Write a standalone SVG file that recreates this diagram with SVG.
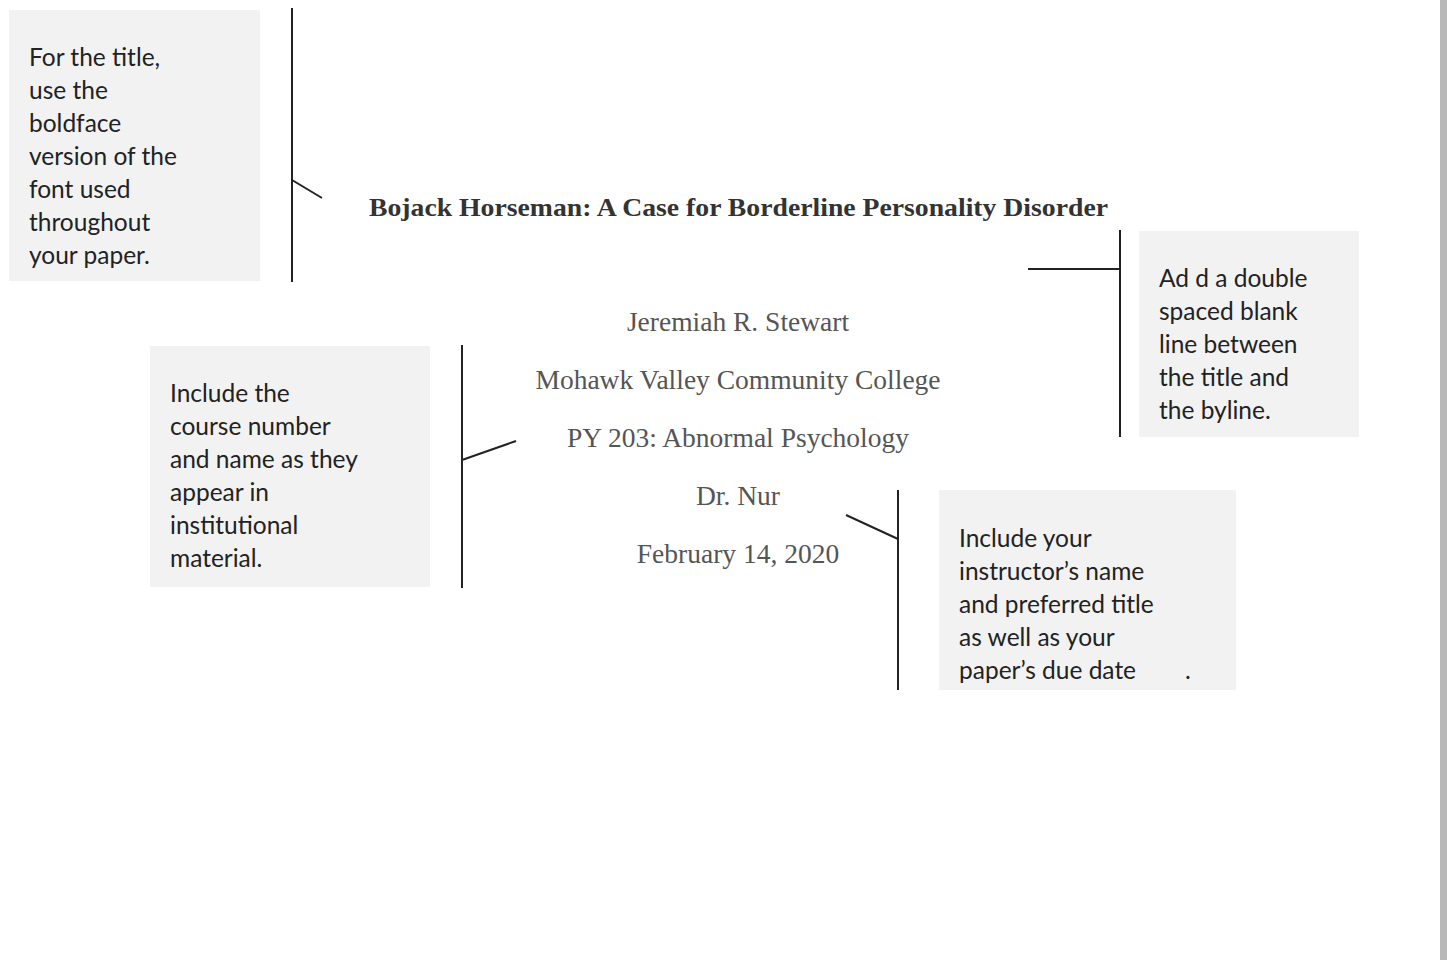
<svg xmlns="http://www.w3.org/2000/svg" width="1447" height="960" viewBox="0 0 1447 960">
<style>
.box{fill:#f2f2f2}
.note{font-family:Lato,"Open Sans",sans-serif;font-size:24.5px;fill:#222}
.doc{font-family:"Liberation Serif","Times New Roman",serif;font-size:27.5px;fill:#555;text-anchor:middle}
.title{font-family:"Liberation Serif","Times New Roman",serif;font-size:26px;font-weight:bold;fill:#333}
.ln{stroke:#222;stroke-width:2;fill:none}
</style>
<rect x="0" y="0" width="1447" height="960" fill="#fff"/>
<rect x="1440" y="0" width="7" height="960" fill="#b8b8b8"/>
<g id="title"><text class="title" x="369" y="216" textLength="739" lengthAdjust="spacingAndGlyphs">Bojack Horseman: A Case for Borderline Personality Disorder</text></g>
<g id="byline">
<text class="doc" x="738" y="331">Jeremiah R. Stewart</text>
<text class="doc" x="738" y="389">Mohawk Valley Community College</text>
<text class="doc" x="738" y="447">PY 203: Abnormal Psychology</text>
<text class="doc" x="738" y="505">Dr. Nur</text>
<text class="doc" x="738" y="563">February 14, 2020</text>
</g>
<g id="note-title">
<rect class="box" x="9" y="10" width="251" height="271"/>
<text class="note" x="29" y="66">For the title,</text>
<text class="note" x="29" y="99">use the</text>
<text class="note" x="29" y="132">boldface</text>
<text class="note" x="29" y="165">version of the</text>
<text class="note" x="29" y="198">font used</text>
<text class="note" x="29" y="231">throughout</text>
<text class="note" x="29" y="264">your paper.</text>
</g>
<g id="note-spacing">
<rect class="box" x="1139" y="231" width="220" height="206"/>
<text class="note" x="1159" y="287">Ad d a double</text>
<text class="note" x="1159" y="320">spaced blank</text>
<text class="note" x="1159" y="353">line between</text>
<text class="note" x="1159" y="386">the title and</text>
<text class="note" x="1159" y="419">the byline.</text>
</g>
<g id="note-course">
<rect class="box" x="150" y="346" width="280" height="241"/>
<text class="note" x="170" y="402">Include the</text>
<text class="note" x="170" y="435">course number</text>
<text class="note" x="170" y="468">and name as they</text>
<text class="note" x="170" y="501">appear in</text>
<text class="note" x="170" y="534">institutional</text>
<text class="note" x="170" y="567">material.</text>
</g>
<g id="note-instructor">
<rect class="box" x="939" y="490" width="297" height="200"/>
<text class="note" x="959" y="547">Include your</text>
<text class="note" x="959" y="580">instructor’s name</text>
<text class="note" x="959" y="613">and preferred title</text>
<text class="note" x="959" y="646">as well as your</text>
<text class="note" x="959" y="679">paper’s due date</text>
<text class="note" x="1185" y="679">.</text>
</g>
<g id="connectors">
<path class="ln" d="M292 8V282M292 180L322 198"/>
<path class="ln" d="M1120 230V437M1028 269H1120"/>
<path class="ln" d="M462 345V588M462 460L516 441"/>
<path class="ln" d="M898 490V690M846 515L898 539"/>
</g>
</svg>
